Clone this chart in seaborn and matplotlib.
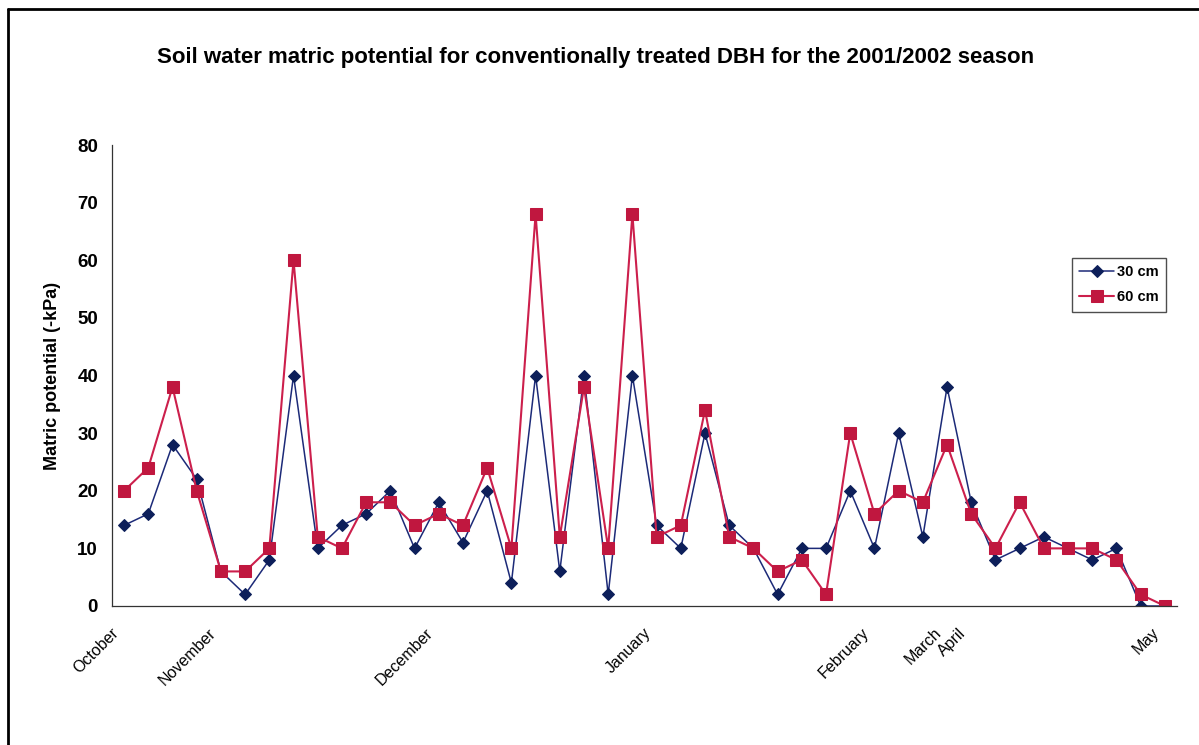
import matplotlib
matplotlib.use("Agg")
import matplotlib.pyplot as plt
from matplotlib.lines import Line2D
from matplotlib.transforms import ScaledTranslation
import numpy as np
import pandas as pd
import seaborn as sns

# Soil water matric potential readings (-kPa), one per sampling date
depth_30cm = [14, 16, 28, 22, 6, 2, 8, 40, 10, 14, 16, 20, 10, 18, 11, 20, 4, 40, 6, 40, 2, 40,
              14, 10, 30, 14, 10, 2, 10, 10, 20, 10, 30, 12, 38, 18, 8, 10, 12, 10, 8, 10, 0, 0]
depth_60cm = [20, 24, 38, 20, 6, 6, 10, 60, 12, 10, 18, 18, 14, 16, 14, 24, 10, 68, 12, 38, 10, 68,
              12, 14, 34, 12, 10, 6, 8, 2, 30, 16, 20, 18, 28, 16, 10, 18, 10, 10, 10, 8, 2, 0]

# Month labels and the sampling index where each month starts
month_names = ["October", "November", "December", "January", "February", "March", "April", "May"]
month_index = [0, 4, 13, 22, 31, 34, 35, 43]

series_names = ["30 cm", "60 cm"]

sns.set_style("white")
plt.rcParams["font.family"] = ["Liberation Sans", "DejaVu Sans"]
plt.rcParams["text.color"] = "black"
plt.rcParams["axes.labelcolor"] = "black"
plt.rcParams["xtick.color"] = "black"
plt.rcParams["ytick.color"] = "black"

W, H = 1199, 745
fig = plt.figure(figsize=(W / 100, H / 100), dpi=100)
ax = fig.add_axes([112 / W, 1 - 606 / H, (1177 - 112) / W, (606 - 145) / H])

n = len(depth_30cm)
df30 = pd.DataFrame({"sample": np.arange(n), "potential": depth_30cm})
df60 = pd.DataFrame({"sample": np.arange(n), "potential": depth_60cm})

blue = "#1c2a78"
blue_mk = "#0d1f5a"
red = "#cc1f4c"
red_mk = "#c0173f"

sns.lineplot(data=df30, x="sample", y="potential", ax=ax, color=blue, linewidth=1.1,
             marker="D", markersize=6.5, markerfacecolor=blue_mk, markeredgecolor=blue_mk,
             label=series_names[0])
sns.lineplot(data=df60, x="sample", y="potential", ax=ax, color=red, linewidth=1.5,
             marker="s", markersize=8, markerfacecolor=red_mk, markeredgecolor=red_mk,
             label=series_names[1])

ax.set_xlim(-0.5, n - 0.5)
ax.set_ylim(0, 80)
ax.set_yticks(np.arange(0, 81, 10))
ax.tick_params(axis="y", which="major", direction="out", length=5, width=0.8,
               color="#333333", labelcolor="black", labelsize=13.5, pad=5)
for t in ax.get_yticklabels():
    t.set_fontweight("bold")

# Category boundaries carry the tick marks; month labels sit on the categories
ax.set_xticks(np.arange(-0.5, n, 1.0), minor=True)
ax.tick_params(axis="x", which="minor", direction="in", length=4, width=0.8, color="#333333")
ax.set_xticks(month_index)
ax.set_xticklabels(month_names, rotation=45, ha="right", va="top",
                   rotation_mode="anchor", fontsize=11.5, color="black")
ax.tick_params(axis="x", which="major", length=0, pad=14)
shift = ScaledTranslation(-13 / 100, 0, fig.dpi_scale_trans)
for t in ax.get_xticklabels():
    t.set_transform(t.get_transform() + shift)

ax.set_xlabel("")
ax.set_ylabel("Matric potential (-kPa)", fontsize=13, fontweight="bold", labelpad=12,
              color="black")

for side in ["top", "right"]:
    ax.spines[side].set_visible(False)
for side in ["left", "bottom"]:
    ax.spines[side].set_color("#333333")
    ax.spines[side].set_linewidth(0.9)

leg = ax.legend(loc="upper left", bbox_to_anchor=(1072 / W, 1 - 258 / H),
                bbox_transform=fig.transFigure, frameon=True, fancybox=False,
                prop={"weight": "bold", "size": 10.5}, handlelength=2.4,
                handletextpad=0.2, borderpad=0.5, labelspacing=0.75,
                borderaxespad=0)
leg.get_frame().set_edgecolor("#222222")
leg.get_frame().set_linewidth(1.0)
for t in leg.get_texts():
    t.set_color("black")

fig.text(0.497, 1 - 57 / H, "Soil water matric potential for conventionally treated DBH for the 2001/2002 season",
         ha="center", va="center", fontsize=16, fontweight="bold", color="black")

# Outer chart frame
fig.add_artist(Line2D([8 / W, 8 / W], [0, 1 - 9 / H], transform=fig.transFigure,
                      color="black", linewidth=2))
fig.add_artist(Line2D([8 / W, 1], [1 - 9 / H, 1 - 9 / H], transform=fig.transFigure,
                      color="black", linewidth=2))

fig.savefig("out.png", dpi=100)
